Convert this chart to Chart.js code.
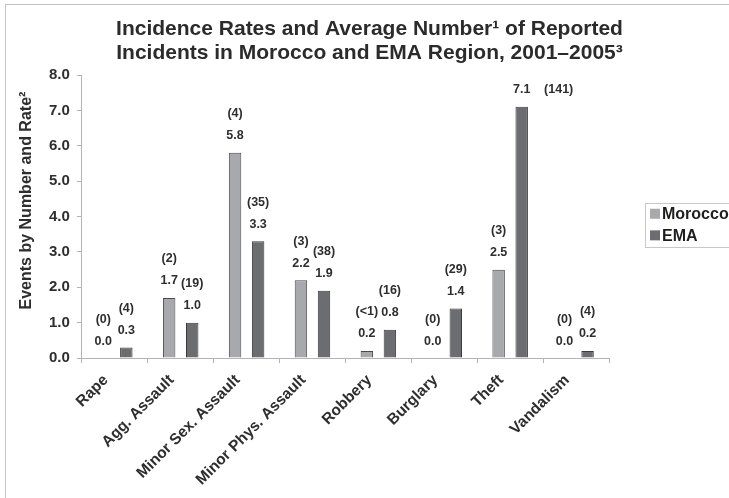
<!DOCTYPE html>
<html>
<head>
<meta charset="utf-8">
<script src="https://cdn.jsdelivr.net/npm/chart.js@4"></script>
<style>
  html, body { margin: 0; padding: 0; background: #fff; overflow: hidden; }
  #wrap { position: relative; width: 729px; height: 498px; }
  #frame {
    position: absolute; left: 5px; top: 4px; width: 800px; height: 600px;
    border-left: 1px solid #c4c4c4; border-top: 1px solid #c4c4c4;
  }
  #chart { position: absolute; left: 0; top: 0; }
</style>
</head>
<body>
<div id="wrap">
  <div id="frame"></div>
  <canvas id="chart" width="729" height="498"></canvas>
</div>
<script>
// values
const categories = ["Rape", "Agg. Assault", "Minor Sex. Assault", "Minor Phys. Assault",
  "Robbery", "Burglary", "Theft", "Vandalism"];
const moroccoRates = [0.0, 1.7, 5.8, 2.2, 0.2, 0.0, 2.5, 0.0];
const emaRates = [0.3, 1.0, 3.3, 1.9, 0.8, 1.4, 7.1, 0.2];
const moroccoCounts = ["(0)", "(2)", "(4)", "(3)", "(<1)", "(0)", "(3)", "(0)"];
const emaCounts = ["(4)", "(19)", "(35)", "(38)", "(16)", "(29)", "(141)", "(4)"];
const yMin = 0;
const yMax = 8;
const yStep = 1;

const titleLines = [
  "Incidence Rates and Average Number\u00B9 of Reported",
  "Incidents in Morocco and EMA Region, 2001\u20132005\u00B3",
];
const yTitle = "Events by Number and Rate\u00B2";

const FONT = '"Liberation Sans", Arial, Helvetica, sans-serif';
const TEXT = "#2e2e2e";
const AXIS = "#b4b4b4";

// rate above the bar, average count above the rate (moved to the side if it would leave the plot)
const barLabels = {
  id: "barLabels",
  afterDatasetsDraw(chart) {
    const { ctx, chartArea } = chart;
    ctx.save();
    ctx.font = `bold 12.5px ${FONT}`;
    ctx.fillStyle = TEXT;
    ctx.textAlign = "center";
    ctx.textBaseline = "middle";
    chart.data.datasets.forEach((ds, di) => {
      chart.getDatasetMeta(di).data.forEach((bar, i) => {
        const valueY = bar.y - 17;
        let countX = bar.x;
        let countY = bar.y - 39;
        if (countY < chartArea.top) {
          countY = valueY;
          countX = bar.x + 37;
        }
        ctx.fillText(ds.data[i].toFixed(1), bar.x, valueY);
        ctx.fillText(ds.counts[i], countX, countY);
      });
    });
    ctx.restore();
  },
};

// page title centred on the whole canvas, y title a little above the plot centre,
// boxed legend to the right of the plot
const frameText = {
  id: "frameText",
  afterDraw(chart) {
    const { ctx, chartArea } = chart;
    ctx.save();

    ctx.fillStyle = "#2b2b2b";
    ctx.font = `bold 21px ${FONT}`;
    ctx.textAlign = "center";
    ctx.textBaseline = "middle";
    titleLines.forEach((line, i) => ctx.fillText(line, chart.width / 2 + 5, 29 + i * 24.4));

    ctx.save();
    ctx.translate(27, (chartArea.top + chartArea.bottom) / 2 - 16);
    ctx.rotate(-Math.PI / 2);
    ctx.font = `bold 16px ${FONT}`;
    ctx.fillStyle = TEXT;
    ctx.fillText(yTitle, 0, 0);
    ctx.restore();

    const x0 = chartArea.right + 36;
    const cy = (chartArea.top + chartArea.bottom) / 2 + 8;
    const rowH = 21.6;
    ctx.strokeStyle = "#c8c8c8";
    ctx.lineWidth = 1;
    ctx.strokeRect(Math.round(x0) + 0.5, Math.round(cy - 22) + 0.5, 200, 44);
    ctx.font = `bold 16px ${FONT}`;
    ctx.textAlign = "left";
    chart.data.datasets.forEach((ds, i) => {
      const y = cy + (i - 0.5) * rowH;
      ctx.fillStyle = ds.backgroundColor;
      ctx.fillRect(x0 + 5, y - 5, 10, 10);
      ctx.fillStyle = "#1e1e1e";
      ctx.fillText(ds.label, x0 + 17, y + 1);
    });
    ctx.restore();
  },
};

new Chart(document.getElementById("chart"), {
  type: "bar",
  data: {
    labels: categories,
    datasets: [
      {
        label: "Morocco",
        data: moroccoRates,
        counts: moroccoCounts,
        backgroundColor: "#a8a9ac",
        borderColor: "#4a4a4a",
        borderWidth: 1,
        categoryPercentage: 0.7,
        barPercentage: 0.54,
      },
      {
        label: "EMA",
        data: emaRates,
        counts: emaCounts,
        backgroundColor: "#6c6d70",
        borderColor: "#3a3a3a",
        borderWidth: 1,
        categoryPercentage: 0.7,
        barPercentage: 0.54,
      },
    ],
  },
  options: {
    responsive: false,
    animation: false,
    devicePixelRatio: 1,
    layout: { padding: { left: 42, right: 120, top: 75, bottom: 1 } },
    plugins: {
      legend: { display: false },
      tooltip: { enabled: false },
      title: { display: false },
    },
    scales: {
      x: {
        grid: { display: true, drawOnChartArea: false, color: AXIS, tickLength: 5 },
        border: { color: AXIS },
        ticks: {
          color: TEXT,
          font: { family: FONT, size: 15.5, weight: "bold" },
          minRotation: 45,
          maxRotation: 45,
          padding: 8,
          labelOffset: -9,
        },
      },
      y: {
        min: yMin,
        max: yMax,
        grid: { display: true, drawOnChartArea: false, color: AXIS, tickLength: 5 },
        border: { color: AXIS },
        ticks: {
          stepSize: yStep,
          color: TEXT,
          padding: 7,
          font: { family: FONT, size: 15, weight: "bold" },
          callback: (v) => Number(v).toFixed(1),
        },
      },
    },
  },
  plugins: [barLabels, frameText],
});
</script>
</body>
</html>
